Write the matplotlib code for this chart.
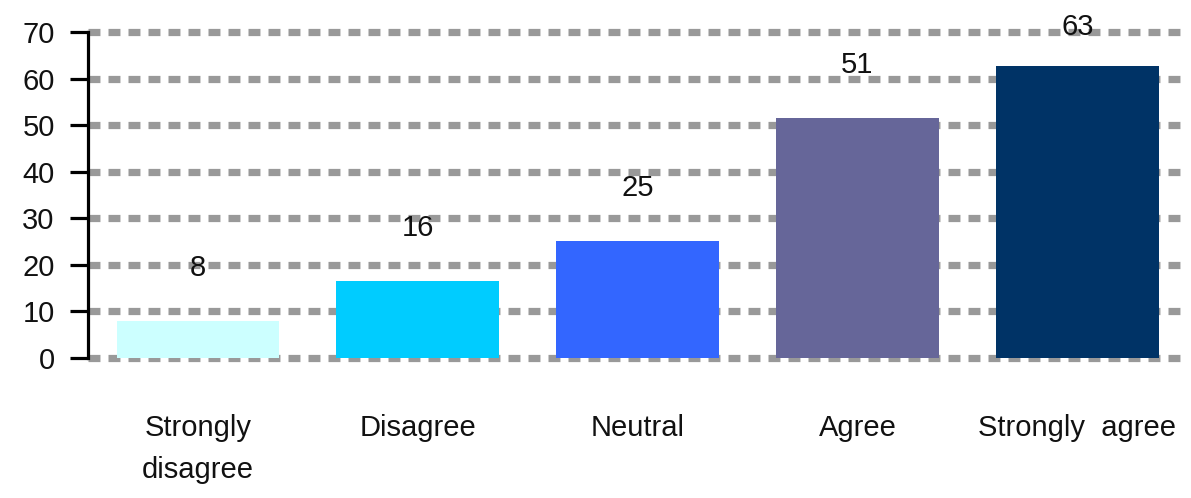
import matplotlib
matplotlib.use("Agg")
import matplotlib.pyplot as plt

categories = ["Strongly\ndisagree", "Disagree", "Neutral", "Agree", "Strongly  agree"]
values = [8, 16.5, 25.2, 51.5, 62.8]
labels = ["8", "16", "25", "51", "63"]
colors = ["#CCFFFF", "#00CCFF", "#3366FF", "#666699", "#003366"]
yticks = [0, 10, 20, 30, 40, 50, 60, 70]

plt.rcParams['font.family'] = ['Liberation Sans', 'DejaVu Sans']
plt.rcParams['lines.scale_dashes'] = False

fig = plt.figure(figsize=(11.91, 4.98), dpi=100)
ax = fig.add_axes([88/1191, 1-358/498, (1185-88)/1191, (358-32)/498])

x = list(range(len(categories)))
ax.bar(x, values, width=0.74, color=colors, zorder=3)
ax.set_xlim(-0.5, 4.49)
ax.set_ylim(0, 70)

for xi, v, lab in zip(x, values, labels):
    ax.text(xi, min(v + 11.4, 71.0), lab, ha='center', va='center',
            fontsize=21, color='#111111', zorder=5, clip_on=False)

ax.set_yticks(yticks)
ax.set_yticklabels([str(t) for t in yticks], fontsize=21, color='#111111')
ax.set_xticks(x)
ax.set_xticklabels(categories, fontsize=21, color='#111111', linespacing=1.65, va='top')
ax.tick_params(axis='x', length=0, pad=40)
ax.tick_params(axis='y', length=13, width=2.3, pad=11, color='black')

for t in yticks:
    ax.axhline(t, color='#999999', linewidth=5.2, linestyle=(0, (8.6, 5.8)),
               zorder=1, clip_on=False)

for s in ['top', 'right', 'bottom']:
    ax.spines[s].set_visible(False)
ax.spines['left'].set_linewidth(2.3)
ax.spines['left'].set_zorder(4)

fig.savefig("out.png", dpi=100)
